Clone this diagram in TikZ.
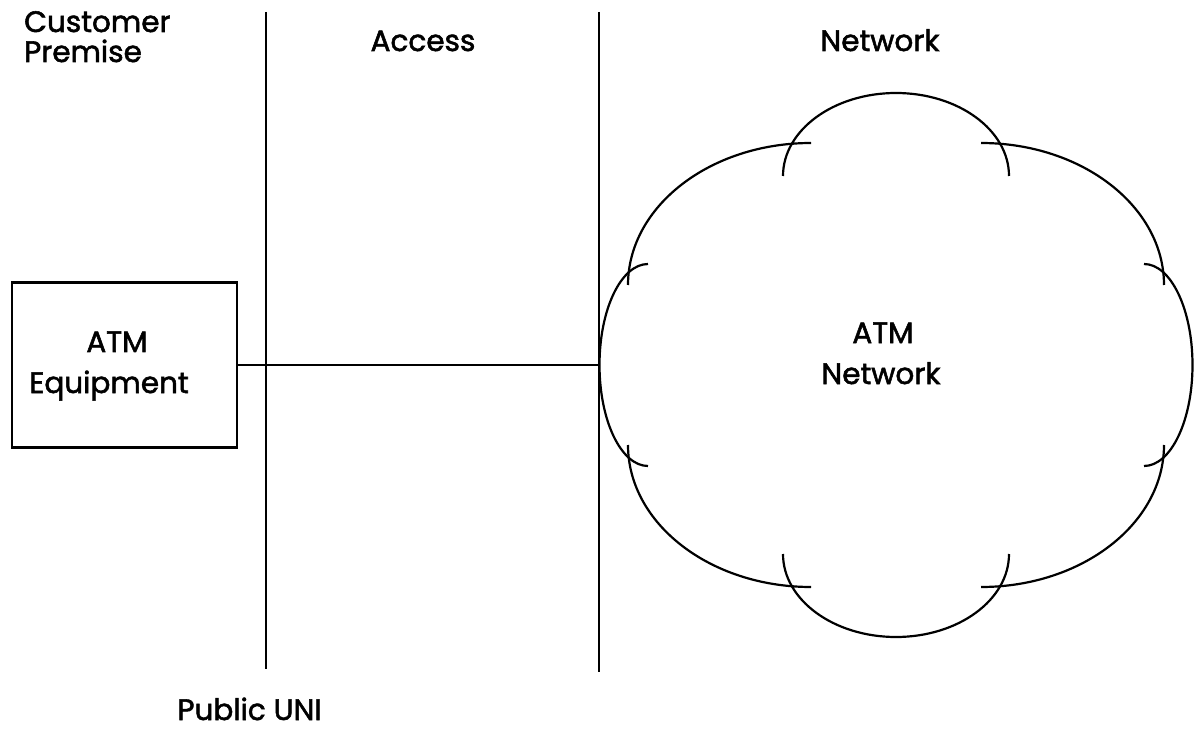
\documentclass[tikz,border=0pt]{standalone}
\usepackage{fontspec}
\setmainfont{Poppins}[FakeBold=1.8]
\begin{document}
\begin{tikzpicture}[x=1pt,y=-1pt,
  ln/.style={line width=2.2pt,black},
  lbl/.style={inner sep=0pt,anchor=base,font=\fontsize{29.5}{31}\selectfont},
  lblw/.style={lbl,anchor=base west}]
\useasboundingbox (0,0) rectangle (1195,730);
% separators
\coordinate (l1t) at (266,12);
\coordinate (l1b) at (266,669);
\coordinate (l2t) at (599,12);
\coordinate (l2b) at (599,672);
\draw[ln] (l1t) -- (l1b);
\draw[ln] (l2t) -- (l2b);
% equipment box
\node[draw,ln,minimum width=225pt,minimum height=165pt,inner sep=0pt] (equip) at (124.5,365) {};
\node[lbl] (eq1) at (117,352) {ATM};
\node[lbl] (eq2) at (109,393) {Equipment};
% cloud
\coordinate (cloudW) at (599,365);
\draw[ln] (783,176) arc[start angle=180,end angle=360,x radius=113,y radius=83];
\draw[ln] (811,143) arc[start angle=270,end angle=180,x radius=183,y radius=142];
\draw[ln] (981,143) arc[start angle=270,end angle=360,x radius=183,y radius=142];
\draw[ln] (648,264) arc[start angle=270,end angle=90,x radius=48.5,y radius=101];
\draw[ln] (1144,264) arc[start angle=-90,end angle=90,x radius=48.5,y radius=101];
\draw[ln] (628,445) arc[start angle=180,end angle=90,x radius=183,y radius=142];
\draw[ln] (1164,445) arc[start angle=0,end angle=90,x radius=183,y radius=142];
\draw[ln] (783,554) arc[start angle=180,end angle=0,x radius=113,y radius=83];
\node[lbl] (net1) at (883,343) {ATM};
\node[lbl] (net2) at (881,384) {Network};
% link
\draw[ln] (equip.east) -- (cloudW);
% headers
\node[lblw] (cp1) at (24,32) {Customer};
\node[lblw] (cp2) at (24,62) {Premise};
\node[lbl] (acc) at (423,51) {Access};
\node[lbl] (netw) at (880,51) {Network};
\node[lbl] (uni) at (249.5,720) {Public UNI};
\end{tikzpicture}
\end{document}
